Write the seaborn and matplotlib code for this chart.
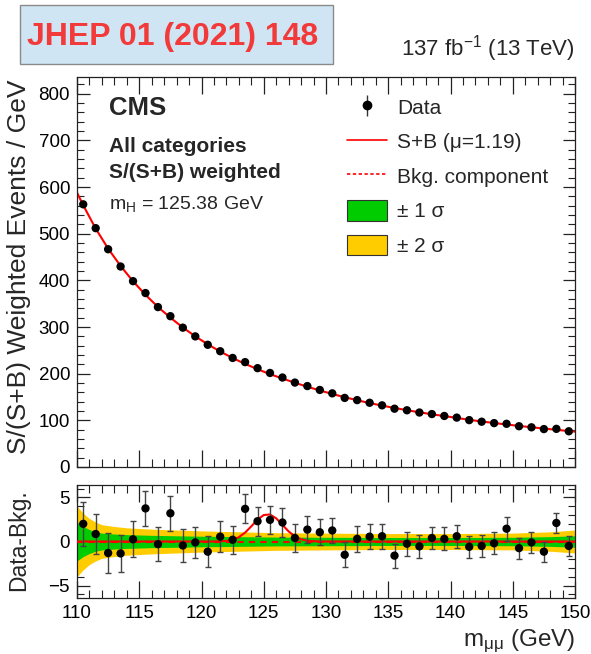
import numpy as np
import pandas as pd
import matplotlib
matplotlib.use("Agg")
import matplotlib.pyplot as plt
from matplotlib.patches import Rectangle, Patch
from matplotlib.lines import Line2D
from matplotlib.ticker import MultipleLocator
import seaborn as sns

# ---- values -------------------------------------------------------------
bin_centers = np.arange(110.5, 150.0, 1.0)

data_weighted = [563.0, 511.9, 466.7, 429.7, 398.3, 372.8, 342.7, 323.2, 298.6, 279.9,
                 261.9, 248.1, 233.7, 224.7, 211.8, 201.5, 191.7, 180.9, 173.4, 165.1,
                 157.8, 148.0, 143.3, 137.6, 132.1, 124.9, 121.5, 116.7, 113.4, 109.3,
                 105.8, 100.4, 97.0, 94.0, 92.5, 87.3, 85.0, 81.2, 81.7, 76.5]

data_minus_bkg = [2.0, 0.85, -1.3, -1.35, 0.25, 3.75, -0.3, 3.2, -0.45, -0.1,
                  -1.15, 0.55, 0.2, 3.7, 2.3, 2.45, 2.15, 0.4, 1.35, 1.05,
                  1.25, -1.5, 0.3, 0.55, 0.6, -1.6, -0.25, -0.55, 0.4, 0.3,
                  0.6, -0.6, -0.5, -0.2, 1.45, -0.75, -0.1, -1.15, 2.1, -0.5]

data_err = [2.5, 2.3, 2.25, 2.1, 2.05, 2.0, 1.95, 2.0, 1.85, 1.8,
            1.75, 1.75, 1.6, 1.65, 1.65, 1.6, 1.6, 1.55, 1.5, 1.5,
            1.45, 1.4, 1.45, 1.4, 1.4, 1.35, 1.35, 1.3, 1.3, 1.3,
            1.3, 1.25, 1.25, 1.25, 1.35, 1.2, 1.2, 1.15, 1.15, 1.15]

fit_mass = [110.0] + list(bin_centers) + [150.0]
fit_events = [588.0, 561.0, 511.0, 468.0, 431.0, 398.0, 369.0, 343.0, 320.0, 299.0, 280.0,
              263.0, 247.5, 233.5, 221.0, 209.5, 199.0, 189.5, 180.5, 172.0, 164.0,
              156.5, 149.5, 143.0, 137.0, 131.5, 126.5, 121.7, 117.2, 113.0, 109.0,
              105.2, 101.0, 97.5, 94.2, 91.0, 88.0, 85.1, 82.3, 79.6, 77.0, 75.8]

signal_mass = [110.0, 120.0, 120.5, 121.0, 121.5, 122.0, 122.5, 123.0, 123.5, 124.0, 124.5,
               125.0, 125.5, 126.0, 126.5, 127.0, 127.5, 128.0, 128.5, 129.0, 129.5,
               130.0, 130.5, 150.0]
signal_excess = [0.0, 0.0, 0.0, 0.005, 0.02, 0.07, 0.20, 0.49, 1.01, 1.72, 2.49,
                 3.00, 3.06, 2.62, 1.88, 1.14, 0.58, 0.25, 0.09, 0.03, 0.007,
                 0.0, 0.0, 0.0]

band_mass = [110.0, 110.5, 111.0, 111.5, 112.0, 113.0, 114.0, 116.0, 118.0, 120.0,
             123.0, 126.0, 130.0, 135.0, 140.0, 145.0, 148.0, 150.0]
band_1sigma = [2.2, 1.7, 1.35, 1.1, 0.95, 0.85, 0.78, 0.7, 0.65, 0.6,
               0.55, 0.5, 0.48, 0.45, 0.45, 0.48, 0.55, 0.65]
band_2sigma = [4.0, 3.2, 2.6, 2.2, 1.9, 1.7, 1.55, 1.4, 1.3, 1.2,
               1.1, 1.0, 0.95, 0.9, 0.9, 0.95, 1.1, 1.3]

# ---- style --------------------------------------------------------------
sns.set_style("ticks")
plt.rcParams["font.family"] = ["Liberation Sans", "DejaVu Sans"]
plt.rcParams["mathtext.default"] = "regular"
plt.rcParams["axes.linewidth"] = 0.9
plt.rcParams["axes.edgecolor"] = "#222222"

GREEN = "#00CC00"
YELLOW = "#FFCC00"
RED = "#FF0000"
TICK_FS = 13.5
TITLE_FS = 17.5

fig = plt.figure(figsize=(5.91, 6.54), dpi=100)
ax1 = fig.add_axes([0.1303, 0.2860, 0.8427, 0.5963])
ax2 = fig.add_axes([0.1303, 0.0856, 0.8427, 0.1728])

df = pd.DataFrame({"mass": bin_centers, "events": data_weighted,
                   "resid": data_minus_bkg, "err": data_err})
fit_df = pd.DataFrame({"mass": fit_mass, "events": fit_events})
sig_df = pd.DataFrame({"mass": signal_mass, "excess": signal_excess})

# ---- main panel ---------------------------------------------------------
sns.lineplot(data=fit_df, x="mass", y="events", ax=ax1, color=RED, lw=1.5,
             sort=False, legend=False)
ax1.errorbar(df["mass"], df["events"], yerr=df["err"], fmt="none",
             ecolor="#333333", elinewidth=1.0, capsize=0, zorder=3)
sns.scatterplot(data=df, x="mass", y="events", ax=ax1, color="black", s=36,
                edgecolor="none", zorder=4, legend=False)

ax1.set_xlim(110, 150)
ax1.set_ylim(0, 836)
ax1.xaxis.set_major_locator(MultipleLocator(5))
ax1.xaxis.set_minor_locator(MultipleLocator(1))
ax1.yaxis.set_major_locator(MultipleLocator(100))
ax1.yaxis.set_minor_locator(MultipleLocator(20))
ax1.tick_params(axis="both", which="both", direction="in", top=True, right=True,
                labelsize=TICK_FS, colors="#222222", labelcolor="black")
ax1.tick_params(axis="x", which="major", length=12, width=0.9)
ax1.tick_params(axis="x", which="minor", length=6, width=0.8)
ax1.tick_params(axis="y", which="major", length=9, width=0.9, pad=5)
ax1.tick_params(axis="y", which="minor", length=5, width=0.8)
ax1.tick_params(axis="x", labelbottom=False)
ax1.set_xlabel("")
ax1.set_ylabel("")

ax1.text(0.064, 0.903, "CMS", transform=ax1.transAxes, fontsize=18.5,
         fontweight="bold", va="baseline", ha="left")
ax1.text(0.064, 0.808, "All categories", transform=ax1.transAxes, fontsize=15,
         fontweight="bold", va="baseline", ha="left")
ax1.text(0.064, 0.741, "S/(S+B) weighted", transform=ax1.transAxes, fontsize=15,
         fontweight="bold", va="baseline", ha="left")
ax1.text(0.064, 0.662, "m$_{H}$ = 125.38 GeV", transform=ax1.transAxes,
         fontsize=14, va="baseline", ha="left")

# legend
err_handle = ax1.errorbar([], [], yerr=[], fmt="o", color="black", ms=6,
                          ecolor="#333333", elinewidth=1.0, capsize=2)
sb_handle = Line2D([], [], color=RED, lw=1.2)
bkg_handle = Line2D([], [], color=RED, lw=1.2, ls=(0, (2, 1.5)))
g_handle = Patch(facecolor=GREEN, edgecolor="#333333", lw=0.8)
y_handle = Patch(facecolor=YELLOW, edgecolor="#333333", lw=0.8)
ax1.legend([err_handle, sb_handle, bkg_handle, g_handle, y_handle],
           ["Data", "S+B (μ=1.19)", "Bkg. component", "± 1 σ", "± 2 σ"],
           loc="upper left", bbox_to_anchor=(0.542, 0.950), frameon=False,
           fontsize=15, handlelength=1.92, handleheight=1.15, handletextpad=0.48,
           labelspacing=0.63, borderpad=0.0, borderaxespad=0.0)

# ---- ratio panel --------------------------------------------------------
bm = np.array(band_mass)
ax2.fill_between(bm, -np.array(band_2sigma), np.array(band_2sigma),
                 color=YELLOW, lw=0, zorder=1)
ax2.fill_between(bm, -np.array(band_1sigma), np.array(band_1sigma),
                 color=GREEN, lw=0, zorder=2)
ax2.axhline(0, color=RED, lw=1.5, ls=(0, (3, 2.5)), zorder=3)
sns.lineplot(data=sig_df, x="mass", y="excess", ax=ax2, color=RED, lw=1.5,
             sort=False, legend=False, zorder=4)
ax2.errorbar(df["mass"], df["resid"], yerr=df["err"], fmt="none",
             ecolor="#444444", elinewidth=1.0, capsize=2.2, capthick=1.0, zorder=5)
sns.scatterplot(data=df, x="mass", y="resid", ax=ax2, color="black", s=36,
                edgecolor="none", zorder=6, legend=False)

ax2.set_xlim(110, 150)
ax2.set_ylim(-6.4, 6.4)
ax2.xaxis.set_major_locator(MultipleLocator(5))
ax2.xaxis.set_minor_locator(MultipleLocator(1))
ax2.yaxis.set_major_locator(MultipleLocator(5))
ax2.yaxis.set_minor_locator(MultipleLocator(1))
ax2.tick_params(axis="both", which="both", direction="in", top=True, right=True,
                labelsize=TICK_FS, colors="#222222", labelcolor="black")
ax2.tick_params(axis="x", which="major", length=12, width=0.9, pad=5)
ax2.tick_params(axis="x", which="minor", length=6, width=0.8)
ax2.tick_params(axis="y", which="major", length=9, width=0.9, pad=5)
ax2.tick_params(axis="y", which="minor", length=5, width=0.8)
ax2.set_ylabel("")
ax2.set_xlabel("m$_{μμ}$ (GeV)", fontsize=TITLE_FS, loc="right")

# axis titles placed in figure space
fig.text(19 / 591, 1 - 79 / 654, "S/(S+B) Weighted Events / GeV", rotation=90,
         fontsize=19, ha="center", va="top")
fig.text(19 / 591, 1 - 540 / 654, "Data-Bkg.", rotation=90,
         fontsize=16.5, ha="center", va="center")

# ---- header -------------------------------------------------------------
fig.patches.append(Rectangle((20 / 591, 1 - 64 / 654), 313 / 591, 59 / 654,
                             transform=fig.transFigure, facecolor="#CFE5F3",
                             edgecolor="#8A8A8A", lw=1.0, zorder=0))
fig.text(173 / 591, 1 - 37 / 654, "JHEP 01 (2021) 148", color="#F23A3A",
         fontsize=23, fontweight="bold", ha="center", va="center")
fig.text(0.973, 1 - 55 / 654, "137 fb$^{-1}$ (13 TeV)", fontsize=16, ha="right",
         va="baseline")

fig.savefig("out.png", dpi=100)
